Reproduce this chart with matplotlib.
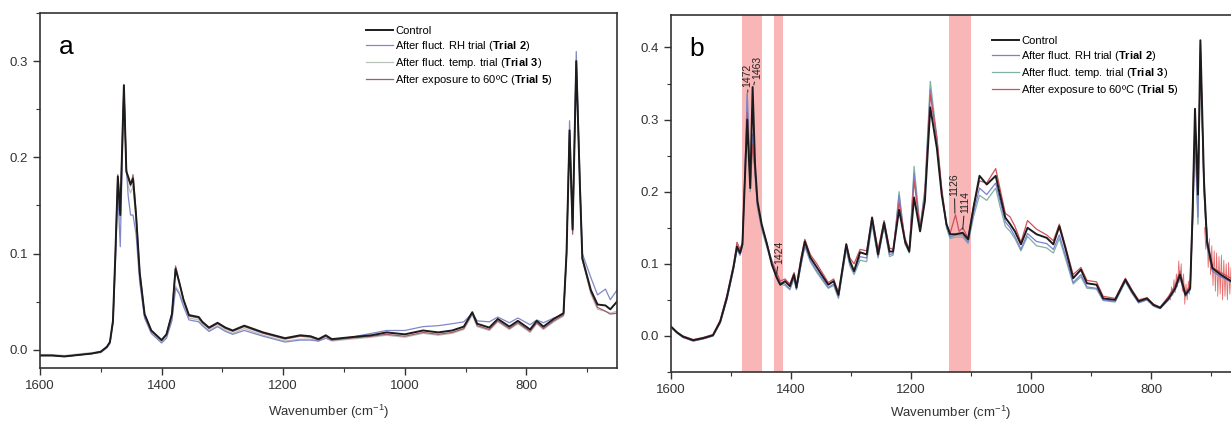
import numpy as np
import matplotlib
matplotlib.use('Agg')
import matplotlib.pyplot as plt
from matplotlib.ticker import MultipleLocator, FormatStrFormatter

plt.rcParams['font.family'] = ['Liberation Sans', 'DejaVu Sans']
plt.rcParams['mathtext.fontset'] = 'custom'
plt.rcParams['mathtext.rm'] = 'Liberation Sans'
plt.rcParams['mathtext.bf'] = 'Liberation Sans:bold'

# ---------------- panel a ----------------
wn_a = [1600, 1580, 1560, 1545, 1530, 1515, 1500, 1490, 1485, 1480,
        1476, 1472, 1468, 1462, 1458, 1455, 1451, 1447, 1442, 1436,
        1428, 1417, 1400, 1392, 1383, 1377, 1371, 1364, 1355, 1339,
        1333, 1322, 1308, 1295, 1283, 1264, 1233, 1197, 1172, 1155,
        1142, 1130, 1120, 1089, 1055, 1030, 1000, 970, 945, 922,
        903, 889, 881, 861, 847, 828, 814, 794, 783, 772,
        755, 739, 734, 729, 724, 718, 712, 708, 694, 683,
        670, 662, 651]

control_a = [-0.006, -0.006, -0.007, -0.006, -0.005, -0.004, -0.002, 0.003, 0.008, 0.030,
             0.100, 0.180, 0.140, 0.275, 0.185, 0.180, 0.172, 0.178, 0.140, 0.080,
             0.037, 0.020, 0.010, 0.016, 0.037, 0.084, 0.070, 0.052, 0.036, 0.034,
             0.029, 0.023, 0.028, 0.023, 0.020, 0.025, 0.018, 0.012, 0.015, 0.014,
             0.011, 0.015, 0.011, 0.013, 0.015, 0.018, 0.016, 0.020, 0.018, 0.020,
             0.024, 0.039, 0.027, 0.023, 0.032, 0.024, 0.030, 0.021, 0.030, 0.024,
             0.032, 0.038, 0.100, 0.228, 0.125, 0.300, 0.170, 0.095, 0.062, 0.047,
             0.046, 0.042, 0.050]

trial2_a = [-0.006, -0.006, -0.007, -0.006, -0.005, -0.004, -0.003, 0.002, 0.007, 0.028,
            0.090, 0.165, 0.107, 0.270, 0.190, 0.160, 0.140, 0.140, 0.120, 0.070,
            0.033, 0.017, 0.007, 0.012, 0.030, 0.064, 0.058, 0.045, 0.031, 0.029,
            0.025, 0.019, 0.024, 0.019, 0.016, 0.020, 0.014, 0.008, 0.010, 0.010,
            0.009, 0.012, 0.010, 0.013, 0.017, 0.020, 0.020, 0.024, 0.025, 0.027,
            0.029, 0.038, 0.030, 0.029, 0.034, 0.028, 0.033, 0.026, 0.031, 0.028,
            0.033, 0.036, 0.100, 0.238, 0.128, 0.310, 0.180, 0.100, 0.075, 0.057,
            0.063, 0.052, 0.062]

trial3_a = [-0.005, -0.005, -0.006, -0.005, -0.004, -0.003, -0.002, 0.002, 0.006, 0.026,
            0.095, 0.175, 0.135, 0.270, 0.188, 0.170, 0.163, 0.170, 0.135, 0.075,
            0.034, 0.018, 0.008, 0.013, 0.032, 0.066, 0.060, 0.047, 0.033, 0.031,
            0.026, 0.020, 0.025, 0.020, 0.017, 0.022, 0.015, 0.009, 0.011, 0.011,
            0.009, 0.012, 0.009, 0.011, 0.013, 0.015, 0.013, 0.017, 0.015, 0.017,
            0.021, 0.036, 0.024, 0.020, 0.029, 0.021, 0.027, 0.018, 0.027, 0.021,
            0.029, 0.035, 0.098, 0.225, 0.122, 0.298, 0.168, 0.093, 0.058, 0.042,
            0.040, 0.038, 0.040]

trial5_a = [-0.006, -0.006, -0.007, -0.006, -0.005, -0.004, -0.002, 0.003, 0.008, 0.030,
            0.102, 0.182, 0.145, 0.275, 0.187, 0.178, 0.170, 0.182, 0.142, 0.081,
            0.037, 0.020, 0.010, 0.016, 0.038, 0.087, 0.071, 0.052, 0.035, 0.033,
            0.028, 0.022, 0.027, 0.022, 0.019, 0.024, 0.017, 0.011, 0.014, 0.013,
            0.010, 0.014, 0.010, 0.012, 0.014, 0.016, 0.014, 0.018, 0.016, 0.018,
            0.022, 0.038, 0.025, 0.021, 0.030, 0.022, 0.028, 0.019, 0.028, 0.022,
            0.030, 0.036, 0.100, 0.225, 0.120, 0.300, 0.172, 0.094, 0.060, 0.044,
            0.040, 0.037, 0.038]

# ---------------- panel b ----------------
wn_b = [1600, 1590, 1580, 1563, 1546, 1530, 1518, 1507, 1496, 1490,
        1485, 1481, 1477, 1473, 1468, 1464, 1460, 1456, 1449, 1440,
        1432, 1424, 1418, 1410, 1402, 1395, 1391, 1383, 1377, 1368,
        1357, 1346, 1338, 1329, 1321, 1308, 1302, 1295, 1285, 1274,
        1265, 1255, 1245, 1236, 1230, 1220, 1210, 1203, 1195, 1185,
        1177, 1168, 1157, 1149, 1141, 1135, 1126, 1120, 1114, 1105,
        1096, 1086, 1074, 1059, 1052, 1043, 1035, 1027, 1017, 1006,
        991, 974, 963, 953, 943, 930, 917, 907, 891, 880,
        860, 843, 832, 821, 807, 796, 785, 771, 760, 752,
        743, 735, 731, 727, 722, 718, 712, 707, 698, 684,
        667]

control_b = [0.013, 0.005, -0.001, -0.006, -0.003, 0.001, 0.020, 0.053, 0.095, 0.124,
             0.115, 0.127, 0.215, 0.300, 0.205, 0.345, 0.238, 0.187, 0.155, 0.127,
             0.099, 0.081, 0.071, 0.076, 0.069, 0.085, 0.067, 0.106, 0.131, 0.109,
             0.095, 0.081, 0.071, 0.076, 0.057, 0.127, 0.104, 0.090, 0.116, 0.113,
             0.164, 0.113, 0.157, 0.117, 0.117, 0.175, 0.131, 0.117, 0.192, 0.145,
             0.187, 0.317, 0.260, 0.196, 0.155, 0.141, 0.141, 0.142, 0.143, 0.134,
             0.178, 0.222, 0.210, 0.222, 0.196, 0.164, 0.155, 0.145, 0.127, 0.150,
             0.141, 0.136, 0.127, 0.152, 0.122, 0.080, 0.092, 0.073, 0.071, 0.052,
             0.050, 0.078, 0.062, 0.048, 0.052, 0.043, 0.039, 0.052, 0.066, 0.085,
             0.057, 0.066, 0.169, 0.315, 0.196, 0.410, 0.215, 0.131, 0.094, 0.085,
             0.076]

trial2_b = [0.012, 0.004, -0.002, -0.007, -0.004, 0.000, 0.018, 0.050, 0.092, 0.120,
            0.112, 0.125, 0.220, 0.337, 0.215, 0.280, 0.225, 0.180, 0.150, 0.125,
            0.105, 0.087, 0.074, 0.072, 0.065, 0.080, 0.065, 0.100, 0.125, 0.105,
            0.090, 0.077, 0.067, 0.072, 0.054, 0.122, 0.100, 0.088, 0.110, 0.108,
            0.158, 0.110, 0.153, 0.113, 0.114, 0.195, 0.128, 0.118, 0.225, 0.148,
            0.200, 0.342, 0.270, 0.200, 0.152, 0.137, 0.140, 0.140, 0.140, 0.130,
            0.170, 0.205, 0.196, 0.212, 0.188, 0.158, 0.150, 0.138, 0.120, 0.142,
            0.131, 0.128, 0.120, 0.140, 0.112, 0.074, 0.085, 0.068, 0.066, 0.050,
            0.048, 0.076, 0.060, 0.046, 0.050, 0.042, 0.038, 0.050, 0.064, 0.082,
            0.055, 0.064, 0.160, 0.280, 0.165, 0.405, 0.200, 0.125, 0.090, 0.082,
            0.075]

trial3_b = [0.012, 0.004, -0.002, -0.007, -0.004, 0.000, 0.018, 0.050, 0.092, 0.120,
            0.112, 0.124, 0.220, 0.335, 0.200, 0.270, 0.222, 0.178, 0.148, 0.122,
            0.100, 0.084, 0.072, 0.070, 0.064, 0.080, 0.064, 0.100, 0.124, 0.103,
            0.088, 0.075, 0.066, 0.070, 0.052, 0.120, 0.097, 0.085, 0.105, 0.103,
            0.155, 0.108, 0.152, 0.110, 0.112, 0.200, 0.127, 0.115, 0.235, 0.150,
            0.205, 0.353, 0.275, 0.198, 0.150, 0.135, 0.137, 0.137, 0.137, 0.128,
            0.165, 0.195, 0.188, 0.205, 0.180, 0.152, 0.145, 0.135, 0.118, 0.138,
            0.125, 0.122, 0.115, 0.135, 0.108, 0.072, 0.082, 0.066, 0.065, 0.049,
            0.047, 0.075, 0.059, 0.046, 0.050, 0.041, 0.038, 0.050, 0.064, 0.082,
            0.055, 0.064, 0.160, 0.270, 0.155, 0.395, 0.205, 0.125, 0.090, 0.082,
            0.075]

trial5_b = [0.013, 0.005, 0.000, -0.005, -0.002, 0.002, 0.022, 0.056, 0.098, 0.130,
            0.120, 0.130, 0.218, 0.310, 0.210, 0.265, 0.230, 0.182, 0.153, 0.128,
            0.102, 0.088, 0.076, 0.079, 0.072, 0.088, 0.070, 0.110, 0.134, 0.113,
            0.100, 0.085, 0.074, 0.079, 0.060, 0.128, 0.108, 0.100, 0.120, 0.118,
            0.165, 0.120, 0.160, 0.122, 0.120, 0.185, 0.135, 0.120, 0.215, 0.150,
            0.195, 0.335, 0.275, 0.205, 0.155, 0.142, 0.168, 0.145, 0.150, 0.136,
            0.180, 0.215, 0.212, 0.232, 0.205, 0.170, 0.165, 0.152, 0.130, 0.160,
            0.148, 0.140, 0.132, 0.155, 0.125, 0.085, 0.095, 0.077, 0.075, 0.055,
            0.052, 0.080, 0.064, 0.050, 0.053, 0.044, 0.040, 0.055, 0.070, 0.090,
            0.060, 0.070, 0.180, 0.300, 0.200, 0.390, 0.210, 0.135, 0.095, 0.088,
            0.080]

# jagged (noisy) stretches of the trial 5 trace in panel b
noise_wn_1 = [768, 766, 764, 762, 760, 758, 756, 754, 752, 750, 748, 746, 744, 742, 740, 738, 736]
noise_val_1 = [0.050, 0.068, 0.056, 0.078, 0.060, 0.086, 0.068, 0.104, 0.074, 0.100,
               0.062, 0.086, 0.044, 0.072, 0.050, 0.076, 0.058]
noise_wn_2 = [711, 709, 707, 705, 703, 701, 699, 697, 695, 693, 691, 689, 687, 685,
              683, 681, 679, 677, 675, 673, 671, 669, 667]
noise_val_2 = [0.150, 0.120, 0.150, 0.095, 0.135, 0.085, 0.125, 0.070, 0.118, 0.062,
               0.115, 0.055, 0.110, 0.058, 0.112, 0.050, 0.105, 0.055, 0.100, 0.050,
               0.102, 0.058, 0.095]

bands_b = [(1482, 1449), (1428, 1414), (1137, 1101)]
labels = ['Control',
          r'After fluct. RH trial ($\mathbf{Trial\ 2}$)',
          r'After fluct. temp. trial ($\mathbf{Trial\ 3}$)',
          r'After exposure to 60ºC ($\mathbf{Trial\ 5}$)']

fig = plt.figure(figsize=(12.31, 4.26), dpi=100)
ax_a = fig.add_axes([40 / 1231, 58 / 426, 577 / 1231, 355 / 426])
ax_b = fig.add_axes([671 / 1231, 54 / 426, 560 / 1231, 357 / 426])

# panel a
cols_a = ['#1c1c1c', '#8088c8', '#b9c2b8', '#a45c6c']
for vals, c, lw in zip([trial3_a, trial2_a, trial5_a, control_a],
                       [cols_a[2], cols_a[1], cols_a[3], cols_a[0]],
                       [0.9, 0.9, 0.9, 1.4]):
    ax_a.plot(wn_a, vals, color=c, lw=lw)
ax_a.set_xlim(1600, 651)
ax_a.set_ylim(-0.019, 0.35)

# panel b
for lo, hi in bands_b:
    ax_b.axvspan(lo, hi, color='#f9b6b6', lw=0, zorder=0)
cols_b = ['#1c1c1c', '#7c80d0', '#7fb0a6', '#d0505e']
ax_b.plot(noise_wn_1, noise_val_1, color='#e04848', lw=0.6, alpha=0.8)
ax_b.plot(noise_wn_2, noise_val_2, color='#e04848', lw=0.6, alpha=0.8)
for vals, c, lw in zip([trial3_b, trial2_b, trial5_b, control_b],
                       [cols_b[2], cols_b[1], cols_b[3], cols_b[0]],
                       [0.9, 0.9, 0.9, 1.4]):
    ax_b.plot(wn_b, vals, color=c, lw=lw)
ax_b.set_xlim(1600, 667)
ax_b.set_ylim(-0.05, 0.445)
ax_b.spines['right'].set_visible(False)

# peak labels in panel b
peaks = [(1472, 0.338, 1473, 0.345, '1472'),
         (1462, 0.348, 1456, 0.356, '1463'),
         (1424, 0.086, 1419, 0.100, '1424'),
         (1127, 0.170, 1128, 0.194, '1126'),
         (1114, 0.148, 1110, 0.170, '1114')]
for px, py, tx, ty, s in peaks:
    ax_b.annotate(s, xy=(px, py), xytext=(tx, ty), rotation=90,
                  ha='center', va='bottom', fontsize=7.5, color='#222222',
                  arrowprops=dict(arrowstyle='-', lw=0.7, color='#222222',
                                  shrinkA=0, shrinkB=0))

for ax, cols, letter, leg_xy, pad in [(ax_a, cols_a, 'a', (366, 26), 8),
                                      (ax_b, cols_b, 'b', (992, 36), 6)]:
    ax.xaxis.set_major_locator(MultipleLocator(200))
    ax.xaxis.set_minor_locator(MultipleLocator(100))
    ax.yaxis.set_major_locator(MultipleLocator(0.1))
    ax.yaxis.set_minor_locator(MultipleLocator(0.05))
    ax.yaxis.set_major_formatter(FormatStrFormatter('%.1f'))
    ax.tick_params(which='major', direction='out', length=5, width=1,
                   labelsize=9.5, colors='#333333')
    ax.tick_params(which='minor', direction='out', length=3, width=0.8, colors='#333333')
    for sp in ax.spines.values():
        sp.set_linewidth(1.2)
        sp.set_color('#333333')
    ax.set_xlabel('Wavenumber (cm$^{-1}$)', fontsize=9.5, color='#333333', labelpad=pad)
    ax.text(0.032, 0.905, letter, transform=ax.transAxes, fontsize=19,
            ha='left', va='center')
    handles = [plt.Line2D([], [], color=c, lw=1.4 if i == 0 else 0.9)
               for i, c in enumerate(cols)]
    ax.legend(handles, labels, loc='upper left', frameon=False, fontsize=8,
              bbox_to_anchor=(leg_xy[0] / 1231, 1 - leg_xy[1] / 426),
              bbox_transform=fig.transFigure, borderpad=0, borderaxespad=0,
              handlelength=2.4, handletextpad=0.25, labelspacing=0.28)

fig.savefig('out.png', dpi=100)
